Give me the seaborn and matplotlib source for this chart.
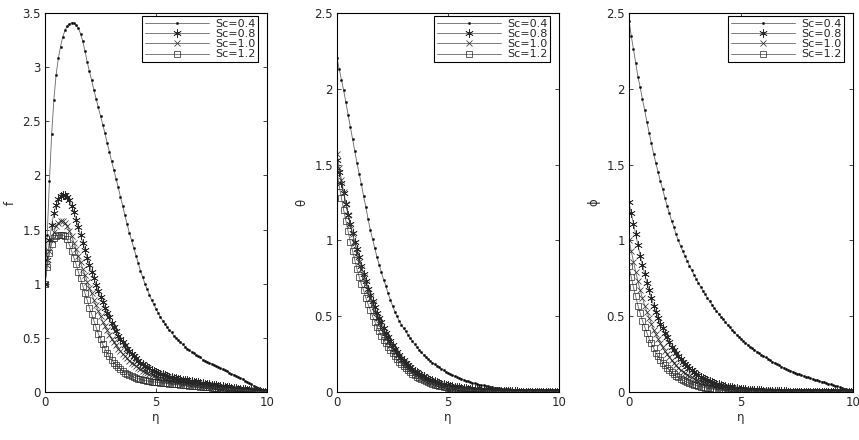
import numpy as np
import pandas as pd
import matplotlib
matplotlib.use('Agg')
import matplotlib.pyplot as plt
import seaborn as sns

# eta grid used by all curves (step 0.1 from 0 to 10)
eta = np.round(np.arange(0, 101) * 0.1, 1)

sc_labels = ['Sc=0.4', 'Sc=0.8', 'Sc=1.0', 'Sc=1.2']

# panel 1 : f
f_04 = [1.00, 1.45, 1.95, 2.38, 2.70, 2.93, 3.08, 3.19, 3.28, 3.34,
        3.38, 3.40, 3.41, 3.41, 3.39, 3.36, 3.31, 3.24, 3.15, 3.05,
        2.96, 2.88, 2.79, 2.71, 2.63, 2.55, 2.47, 2.39, 2.30, 2.22,
        2.13, 2.05, 1.97, 1.89, 1.80, 1.72, 1.63, 1.55, 1.47, 1.40,
        1.33, 1.26, 1.19, 1.12, 1.06, 1.00, 0.95, 0.90, 0.85, 0.81,
        0.77, 0.73, 0.69, 0.66, 0.63, 0.60, 0.57, 0.55, 0.52, 0.50,
        0.48, 0.46, 0.44, 0.42, 0.40, 0.39, 0.37, 0.36, 0.34, 0.33,
        0.32, 0.30, 0.29, 0.28, 0.27, 0.26, 0.25, 0.24, 0.23, 0.22,
        0.21, 0.20, 0.19, 0.18, 0.17, 0.16, 0.15, 0.14, 0.13, 0.12,
        0.10, 0.09, 0.08, 0.07, 0.06, 0.05, 0.04, 0.03, 0.02, 0.01,
        0.00]
f_08 = [1.00, 1.22, 1.40, 1.54, 1.65, 1.73, 1.78, 1.81, 1.82, 1.82,
        1.80, 1.77, 1.72, 1.66, 1.59, 1.52, 1.45, 1.38, 1.31, 1.24,
        1.17, 1.11, 1.05, 0.99, 0.93, 0.88, 0.83, 0.78, 0.73, 0.69,
        0.64, 0.60, 0.56, 0.52, 0.49, 0.46, 0.43, 0.40, 0.38, 0.35,
        0.33, 0.31, 0.29, 0.27, 0.26, 0.24, 0.23, 0.22, 0.205, 0.195,
        0.185, 0.177, 0.169, 0.162, 0.155, 0.149, 0.143, 0.138, 0.133, 0.128,
        0.123, 0.119, 0.115, 0.111, 0.107, 0.103, 0.099, 0.095, 0.092, 0.088,
        0.085, 0.081, 0.078, 0.075, 0.071, 0.068, 0.065, 0.062, 0.059, 0.056,
        0.053, 0.050, 0.047, 0.044, 0.041, 0.038, 0.035, 0.032, 0.029, 0.026,
        0.024, 0.021, 0.019, 0.016, 0.014, 0.011, 0.009, 0.007, 0.004, 0.002,
        0.00]
f_10 = [1.00, 1.17, 1.30, 1.40, 1.48, 1.53, 1.56, 1.58, 1.58, 1.56,
        1.53, 1.49, 1.44, 1.38, 1.32, 1.26, 1.20, 1.14, 1.08, 1.02,
        0.96, 0.91, 0.85, 0.80, 0.75, 0.70, 0.65, 0.61, 0.57, 0.53,
        0.49, 0.46, 0.43, 0.40, 0.38, 0.35, 0.33, 0.31, 0.29, 0.27,
        0.255, 0.24, 0.225, 0.21, 0.197, 0.185, 0.174, 0.164, 0.155, 0.147,
        0.139, 0.132, 0.126, 0.120, 0.115, 0.110, 0.106, 0.102, 0.098, 0.095,
        0.092, 0.089, 0.086, 0.083, 0.080, 0.077, 0.074, 0.071, 0.068, 0.066,
        0.063, 0.061, 0.058, 0.056, 0.053, 0.051, 0.048, 0.046, 0.044, 0.041,
        0.039, 0.037, 0.035, 0.032, 0.030, 0.028, 0.026, 0.024, 0.022, 0.020,
        0.018, 0.016, 0.014, 0.012, 0.010, 0.008, 0.006, 0.005, 0.003, 0.001,
        0.00]
f_12 = [1.00, 1.15, 1.28, 1.37, 1.42, 1.44, 1.45, 1.45, 1.45, 1.44,
        1.41, 1.36, 1.30, 1.24, 1.18, 1.11, 1.05, 0.98, 0.91, 0.85,
        0.78, 0.72, 0.66, 0.60, 0.54, 0.49, 0.44, 0.40, 0.36, 0.33,
        0.30, 0.27, 0.25, 0.23, 0.21, 0.195, 0.18, 0.168, 0.157, 0.147,
        0.138, 0.130, 0.123, 0.117, 0.112, 0.107, 0.103, 0.099, 0.096, 0.093,
        0.090, 0.088, 0.086, 0.084, 0.082, 0.080, 0.078, 0.076, 0.074, 0.072,
        0.070, 0.068, 0.066, 0.064, 0.062, 0.060, 0.058, 0.056, 0.054, 0.052,
        0.050, 0.048, 0.046, 0.044, 0.042, 0.040, 0.038, 0.036, 0.034, 0.032,
        0.030, 0.028, 0.026, 0.025, 0.023, 0.021, 0.019, 0.018, 0.016, 0.015,
        0.013, 0.012, 0.010, 0.009, 0.007, 0.006, 0.005, 0.003, 0.002, 0.001,
        0.00]

# panel 2 : theta
th_04 = [2.20, 2.13, 2.06, 1.99, 1.91, 1.83, 1.75, 1.67, 1.59, 1.51,
         1.44, 1.37, 1.29, 1.22, 1.14, 1.07, 1.01, 0.95, 0.89, 0.84,
         0.79, 0.74, 0.70, 0.65, 0.61, 0.57, 0.53, 0.50, 0.47, 0.445,
         0.42, 0.40, 0.375, 0.355, 0.335, 0.315, 0.295, 0.28, 0.262, 0.247,
         0.233, 0.219, 0.206, 0.194, 0.183, 0.172, 0.162, 0.152, 0.143, 0.134,
         0.126, 0.118, 0.111, 0.104, 0.098, 0.092, 0.086, 0.080, 0.075, 0.070,
         0.066, 0.061, 0.057, 0.053, 0.049, 0.046, 0.043, 0.040, 0.037, 0.034,
         0.031, 0.029, 0.027, 0.025, 0.023, 0.021, 0.019, 0.018, 0.016, 0.015,
         0.014, 0.013, 0.012, 0.011, 0.010, 0.009, 0.008, 0.007, 0.007, 0.006,
         0.005, 0.005, 0.004, 0.004, 0.003, 0.003, 0.002, 0.002, 0.001, 0.001,
         0.00]
th_08 = [1.53, 1.45, 1.38, 1.31, 1.24, 1.17, 1.11, 1.05, 0.99, 0.94,
         0.89, 0.833, 0.78, 0.73, 0.68, 0.64, 0.60, 0.56, 0.52, 0.49,
         0.46, 0.425, 0.39, 0.36, 0.335, 0.31, 0.285, 0.265, 0.245, 0.225,
         0.21, 0.19, 0.177, 0.163, 0.15, 0.139, 0.129, 0.12, 0.111, 0.103,
         0.095, 0.088, 0.082, 0.076, 0.070, 0.065, 0.060, 0.056, 0.052, 0.048,
         0.045, 0.041, 0.038, 0.036, 0.033, 0.031, 0.028, 0.026, 0.024, 0.023,
         0.021, 0.019, 0.018, 0.017, 0.015, 0.014, 0.013, 0.012, 0.011, 0.010,
         0.010, 0.009, 0.008, 0.008, 0.007, 0.006, 0.006, 0.005, 0.005, 0.005,
         0.004, 0.004, 0.003, 0.003, 0.003, 0.003, 0.002, 0.002, 0.002, 0.002,
         0.001, 0.001, 0.001, 0.001, 0.001, 0.001, 0.000, 0.000, 0.000, 0.000,
         0.00]
th_10 = [1.57, 1.48, 1.40, 1.32, 1.24, 1.17, 1.10, 1.04, 0.98, 0.92,
         0.86, 0.81, 0.76, 0.71, 0.67, 0.62, 0.58, 0.53, 0.49, 0.45,
         0.42, 0.39, 0.36, 0.335, 0.31, 0.285, 0.265, 0.245, 0.225, 0.208,
         0.192, 0.177, 0.163, 0.150, 0.138, 0.127, 0.117, 0.108, 0.099, 0.091,
         0.084, 0.077, 0.071, 0.065, 0.060, 0.055, 0.051, 0.047, 0.043, 0.039,
         0.036, 0.033, 0.031, 0.028, 0.026, 0.024, 0.022, 0.020, 0.018, 0.017,
         0.016, 0.014, 0.013, 0.012, 0.011, 0.010, 0.009, 0.009, 0.008, 0.007,
         0.007, 0.006, 0.006, 0.005, 0.005, 0.004, 0.004, 0.004, 0.003, 0.003,
         0.003, 0.002, 0.002, 0.002, 0.002, 0.002, 0.001, 0.001, 0.001, 0.001,
         0.001, 0.001, 0.001, 0.001, 0.001, 0.001, 0.000, 0.000, 0.000, 0.000,
         0.00]
th_12 = [1.45, 1.36, 1.28, 1.20, 1.13, 1.06, 0.99, 0.93, 0.87, 0.81,
         0.76, 0.71, 0.67, 0.62, 0.58, 0.54, 0.50, 0.465, 0.43, 0.40,
         0.37, 0.345, 0.32, 0.295, 0.275, 0.255, 0.235, 0.217, 0.200, 0.185,
         0.170, 0.157, 0.144, 0.132, 0.121, 0.111, 0.102, 0.093, 0.085, 0.078,
         0.071, 0.065, 0.059, 0.054, 0.049, 0.045, 0.041, 0.037, 0.034, 0.031,
         0.028, 0.026, 0.023, 0.021, 0.019, 0.018, 0.016, 0.015, 0.013, 0.012,
         0.011, 0.010, 0.009, 0.008, 0.008, 0.007, 0.006, 0.006, 0.005, 0.005,
         0.004, 0.004, 0.004, 0.003, 0.003, 0.003, 0.002, 0.002, 0.002, 0.002,
         0.002, 0.001, 0.001, 0.001, 0.001, 0.001, 0.001, 0.001, 0.001, 0.001,
         0.001, 0.000, 0.000, 0.000, 0.000, 0.000, 0.000, 0.000, 0.000, 0.000,
         0.00]

# panel 3 : phi
ph_04 = [2.45, 2.35, 2.26, 2.17, 2.08, 2.01, 1.93, 1.86, 1.78, 1.71,
         1.64, 1.57, 1.51, 1.45, 1.39, 1.34, 1.28, 1.23, 1.18, 1.13,
         1.09, 1.04, 1.00, 0.964, 0.929, 0.896, 0.864, 0.833, 0.803, 0.774,
         0.746, 0.719, 0.693, 0.668, 0.644, 0.621, 0.599, 0.577, 0.556, 0.536,
         0.517, 0.498, 0.479, 0.461, 0.443, 0.426, 0.410, 0.394, 0.379, 0.365,
         0.351, 0.338, 0.325, 0.312, 0.300, 0.289, 0.278, 0.267, 0.257, 0.247,
         0.238, 0.228, 0.218, 0.209, 0.200, 0.192, 0.184, 0.176, 0.168, 0.161,
         0.154, 0.147, 0.141, 0.134, 0.128, 0.122, 0.117, 0.111, 0.106, 0.101,
         0.096, 0.091, 0.086, 0.081, 0.077, 0.072, 0.068, 0.063, 0.059, 0.055,
         0.050, 0.046, 0.041, 0.037, 0.032, 0.028, 0.023, 0.018, 0.012, 0.006,
         0.00]
ph_08 = [1.25, 1.18, 1.11, 1.04, 0.97, 0.90, 0.84, 0.78, 0.72, 0.67,
         0.62, 0.57, 0.53, 0.49, 0.45, 0.42, 0.39, 0.36, 0.33, 0.30,
         0.28, 0.26, 0.24, 0.22, 0.20, 0.185, 0.17, 0.156, 0.143, 0.131,
         0.120, 0.110, 0.101, 0.093, 0.085, 0.078, 0.071, 0.065, 0.060, 0.055,
         0.050, 0.046, 0.042, 0.039, 0.035, 0.032, 0.030, 0.027, 0.025, 0.023,
         0.021, 0.019, 0.018, 0.016, 0.015, 0.014, 0.012, 0.011, 0.010, 0.010,
         0.009, 0.008, 0.007, 0.007, 0.006, 0.006, 0.005, 0.005, 0.004, 0.004,
         0.004, 0.003, 0.003, 0.003, 0.002, 0.002, 0.002, 0.002, 0.002, 0.001,
         0.001, 0.001, 0.001, 0.001, 0.001, 0.001, 0.001, 0.001, 0.001, 0.001,
         0.001, 0.000, 0.000, 0.000, 0.000, 0.000, 0.000, 0.000, 0.000, 0.000,
         0.00]
ph_10 = [1.00, 0.93, 0.86, 0.79, 0.73, 0.67, 0.62, 0.57, 0.53, 0.49,
         0.45, 0.41, 0.38, 0.35, 0.32, 0.295, 0.27, 0.25, 0.23, 0.21,
         0.19, 0.175, 0.16, 0.147, 0.135, 0.124, 0.114, 0.104, 0.096, 0.088,
         0.080, 0.074, 0.068, 0.062, 0.057, 0.052, 0.048, 0.044, 0.040, 0.037,
         0.034, 0.031, 0.028, 0.026, 0.024, 0.022, 0.020, 0.018, 0.017, 0.015,
         0.014, 0.013, 0.012, 0.011, 0.010, 0.009, 0.008, 0.008, 0.007, 0.006,
         0.006, 0.005, 0.005, 0.004, 0.004, 0.004, 0.003, 0.003, 0.003, 0.002,
         0.002, 0.002, 0.002, 0.002, 0.002, 0.002, 0.001, 0.001, 0.001, 0.001,
         0.001, 0.001, 0.001, 0.001, 0.001, 0.001, 0.000, 0.000, 0.000, 0.000,
         0.000, 0.000, 0.000, 0.000, 0.000, 0.000, 0.000, 0.000, 0.000, 0.000,
         0.00]
ph_12 = [0.83, 0.76, 0.69, 0.63, 0.57, 0.52, 0.47, 0.43, 0.39, 0.35,
         0.32, 0.29, 0.26, 0.235, 0.213, 0.193, 0.175, 0.158, 0.143, 0.130,
         0.117, 0.106, 0.096, 0.087, 0.079, 0.071, 0.064, 0.058, 0.053, 0.048,
         0.043, 0.039, 0.035, 0.032, 0.029, 0.026, 0.024, 0.021, 0.019, 0.017,
         0.016, 0.014, 0.013, 0.012, 0.011, 0.010, 0.009, 0.008, 0.007, 0.006,
         0.006, 0.005, 0.005, 0.004, 0.004, 0.003, 0.003, 0.003, 0.002, 0.002,
         0.002, 0.001, 0.001, 0.001, 0.001, 0.001, 0.001, 0.001, 0.001, 0.001,
         0.000, 0.000, 0.000, 0.000, 0.000, 0.000, 0.000, 0.000, 0.000, 0.000,
         0.000, 0.000, 0.000, 0.000, 0.000, 0.000, 0.000, 0.000, 0.000, 0.000,
         0.000, 0.000, 0.000, 0.000, 0.000, 0.000, 0.000, 0.000, 0.000, 0.000,
         0.00]

panels = [
    ('f', [f_04, f_08, f_10, f_12], 3.5, [0, 0.5, 1, 1.5, 2, 2.5, 3, 3.5]),
    ('θ', [th_04, th_08, th_10, th_12], 2.5, [0, 0.5, 1, 1.5, 2, 2.5]),
    ('ϕ', [ph_04, ph_08, ph_10, ph_12], 2.5, [0, 0.5, 1, 1.5, 2, 2.5]),
]

# marker styles per Sc value (dot, asterisk, cross, open square)
styles = [
    dict(marker='.', markersize=3, markerfacecolor='black'),
    dict(marker=(6, 2, 0), markersize=6, markerfacecolor='black'),
    dict(marker='x', markersize=4.5, markerfacecolor='black'),
    dict(marker='s', markersize=5, markerfacecolor='none'),
]

sns.set_style('ticks')
plt.rcParams['font.family'] = ['DejaVu Sans']

fig = plt.figure(figsize=(8.59, 4.40), dpi=100)
lefts = [45 / 859, 337 / 859, 629 / 859]
widths = [222 / 859, 222 / 859, 224 / 859]
bottom = 1 - 392 / 440
height = (392 - 13) / 440

for i, (ylab, series, ymax, yticks) in enumerate(panels):
    ax = fig.add_axes([lefts[i], bottom, widths[i], height])
    for vals, lab, st in zip(series, sc_labels, styles):
        df = pd.DataFrame({'eta': eta, 'val': vals})
        sns.lineplot(data=df, x='eta', y='val', ax=ax, color='0.4', lw=0.6,
                     markeredgecolor='0.15', markeredgewidth=0.5,
                     label=lab, estimator=None, sort=False, **st)
    ax.set_xlim(0, 10)
    ax.set_ylim(0, ymax)
    ax.set_xticks([0, 5, 10])
    ax.set_yticks(yticks)
    ax.set_yticklabels([f'{t:g}' for t in yticks])
    ax.set_xlabel('η', fontsize=8.5, labelpad=1)
    ax.set_ylabel(ylab, fontsize=8.5, labelpad=4)
    ax.tick_params(direction='in', top=True, right=True, length=3, width=0.6,
                   labelsize=8.5, pad=3)
    for sp in ax.spines.values():
        sp.set_linewidth(0.8)
        sp.set_color('black')
    leg = ax.legend(loc='upper right', bbox_to_anchor=(1 - 9 / 222, 1 - 3 / 379),
                    borderaxespad=0, fontsize=8, handlelength=5.8,
                    fancybox=False, framealpha=1, edgecolor='black',
                    borderpad=0.25, labelspacing=0.02, handletextpad=0.5)
    leg.get_frame().set_linewidth(0.8)

fig.savefig('out.png', dpi=100)
